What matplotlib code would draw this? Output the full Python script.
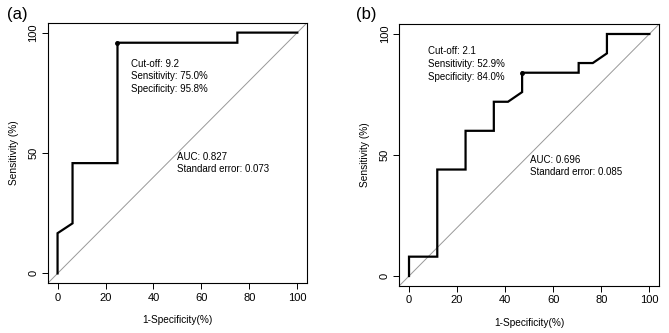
import matplotlib.pyplot as plt

plt.rcParams['font.family'] = ['Liberation Sans', 'DejaVu Sans']

# panel (a) ROC curve, 1-specificity vs sensitivity (%)
fpr_a = [0, 0, 6.25, 6.25, 25, 25, 75, 75, 100]
tpr_a = [0, 16.7, 20.8, 45.8, 45.8, 95.8, 95.8, 100, 100]
thr_a = (25, 95.8)
info_a = ['Cut-off: 9.2', 'Sensitivity: 75.0%', 'Specificity: 95.8%']
auc_a = ['AUC: 0.827', 'Standard error: 0.073']

# panel (b)
fpr_b = [0, 0, 11.76, 11.76, 23.53, 23.53, 35.29, 35.29, 41.18, 47.06, 47.06,
         70.59, 70.59, 76.47, 82.35, 82.35, 100]
tpr_b = [0, 8, 8, 44, 44, 60, 60, 72, 72, 76, 84, 84, 88, 88, 92, 100, 100]
thr_b = (47.06, 84)
info_b = ['Cut-off: 2.1', 'Sensitivity: 52.9%', 'Specificity: 84.0%']
auc_b = ['AUC: 0.696', 'Standard error: 0.085']

fig = plt.figure(figsize=(6.69, 3.33), dpi=100)
ax_a = fig.add_axes([0.0717, 0.150, 0.387, 0.781])
ax_b = fig.add_axes([0.597, 0.142, 0.388, 0.785])


def draw(ax, fpr, tpr, thr, info, auc, info_xy, auc_xy):
    ax.set_xlim(-4, 104)
    ax.set_ylim(-4, 104)
    ax.axline((0, 0), (100, 100), color='#999999', lw=0.7)
    ax.plot(fpr, tpr, color='black', lw=1.6, solid_joinstyle='miter')
    ax.plot(*thr, 'o', color='black', ms=2.5)
    ax.set_xticks([0, 20, 40, 60, 80, 100])
    ax.set_yticks([0, 50, 100])
    ax.set_yticklabels(['0', '50', '100'], rotation=90, va='center')
    ax.tick_params(labelsize=8, length=4, width=0.7, pad=3)
    for s in ax.spines.values():
        s.set_linewidth(0.8)
    ax.set_xlabel('1-Specificity(%)', fontsize=7.3, labelpad=9)
    ax.set_ylabel('Sensitivity (%)', fontsize=7.3, labelpad=7)
    x, y = info_xy
    for i, t in enumerate(info):
        ax.text(x, y - i * 5.3, t, fontsize=7, va='center', ha='left')
    x, y = auc_xy
    for i, t in enumerate(auc):
        ax.text(x, y - i * 5.1, t, fontsize=7, va='center', ha='left')


draw(ax_a, fpr_a, tpr_a, thr_a, info_a, auc_a, (30.8, 87.1), (50, 48.3))
draw(ax_b, fpr_b, tpr_b, thr_b, info_b, auc_b, (7.7, 93.0), (50.2, 48.0))

fig.text(7 / 669, 1 - 14 / 333, '(a)', fontsize=12, va='center', ha='left')
fig.text(356 / 669, 1 - 14 / 333, '(b)', fontsize=12, va='center', ha='left')

fig.savefig('out.png', dpi=100)
